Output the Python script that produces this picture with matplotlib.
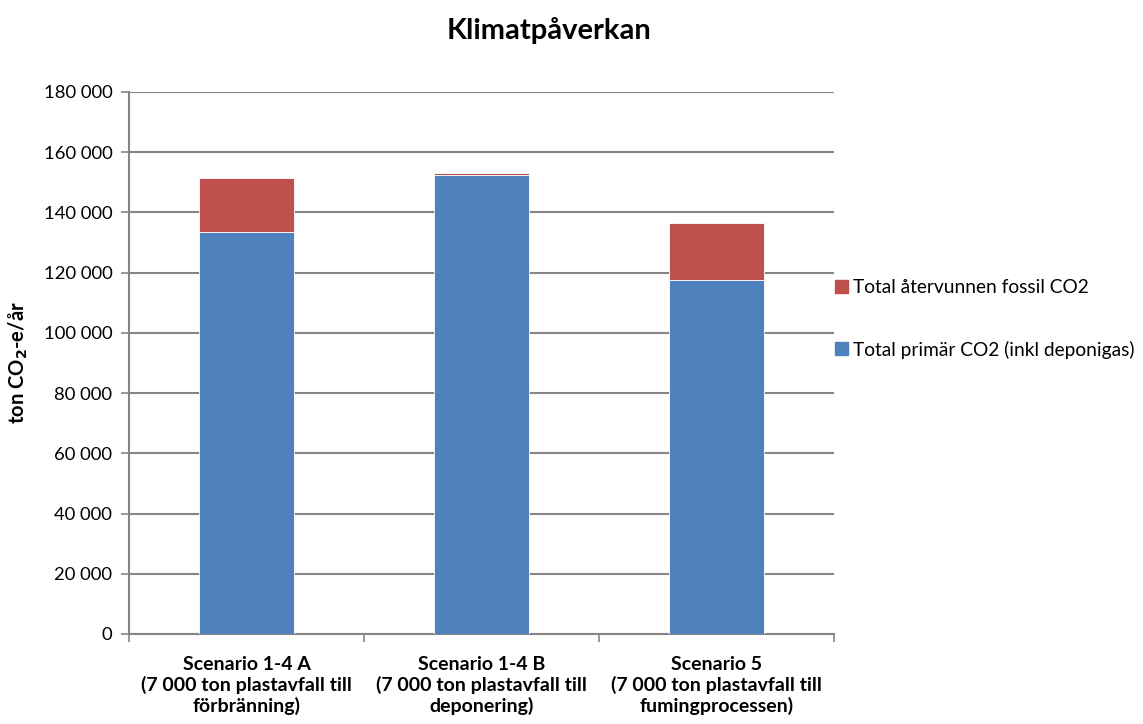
import matplotlib.pyplot as plt
import matplotlib.ticker as mticker
from matplotlib.patches import Patch
import numpy as np

plt.rcParams['font.family'] = ['Lato', 'DejaVu Sans']

scenarios = ['Scenario 1-4 A\n(7 000 ton plastavfall till\nförbränning)',
             'Scenario 1-4 B\n(7 000 ton plastavfall till\ndeponering)',
             'Scenario 5\n(7 000 ton plastavfall till\nfumingprocessen)']
primar = [133500, 152400, 117600]
atervunnen = [17900, 600, 18900]

blue = '#4F81BD'
red = '#C0504D'
grey = '#868686'

fig = plt.figure(figsize=(11.43, 7.24), dpi=100)
ax = fig.add_axes([129 / 1143, 1 - 634 / 724, (834 - 129) / 1143, (634 - 92) / 724])

x = np.arange(len(scenarios))
ax.bar(x, primar, width=0.405, color=blue, edgecolor='white', linewidth=0.6, zorder=3)
ax.bar(x, atervunnen, width=0.405, bottom=primar, color=red, edgecolor='white', linewidth=0.6, zorder=3)

ax.set_xlim(-0.5, 2.5)
ax.set_ylim(0, 180000)
ax.set_yticks(np.arange(0, 180001, 20000))
ax.yaxis.set_major_formatter(mticker.FuncFormatter(lambda v, p: f'{int(v):,}'.replace(',', ' ')))
ax.grid(axis='y', color=grey, linewidth=1.5, zorder=0)

ax.set_xticks(x)
ax.set_xticklabels(scenarios, fontsize=14, fontweight='bold', linespacing=1.2)
ax.set_xticks([-0.5, 0.5, 1.5, 2.5], minor=True)
ax.tick_params(axis='x', which='major', length=0, pad=16)
ax.tick_params(axis='x', which='minor', length=6, color=grey, width=1.2)
ax.tick_params(axis='y', length=6, color=grey, width=1.2, labelsize=13.3, pad=6)

for s in ['top', 'right']:
    ax.spines[s].set_visible(False)
for s in ['left', 'bottom']:
    ax.spines[s].set_color(grey)
    ax.spines[s].set_linewidth(1.5)

ax.set_ylabel('ton CO$_\\mathbf{2}$-e/år', fontsize=14.5, fontweight='bold', labelpad=10)
fig.suptitle('Klimatpåverkan', x=549 / 1143, y=1 - 30 / 724, va='center', fontsize=21, fontweight='bold')

handles = [Patch(color=red, label='Total återvunnen fossil CO2'),
           Patch(color=blue, label='Total primär CO2 (inkl deponigas)')]
fig.legend(handles=handles, loc='center left', bbox_to_anchor=(818 / 1143, 1 - 319 / 724),
           frameon=False, fontsize=13.8, handlelength=0.65, handleheight=0.65,
           handletextpad=0.3, labelspacing=2.3)

fig.savefig('out.png', dpi=100)
